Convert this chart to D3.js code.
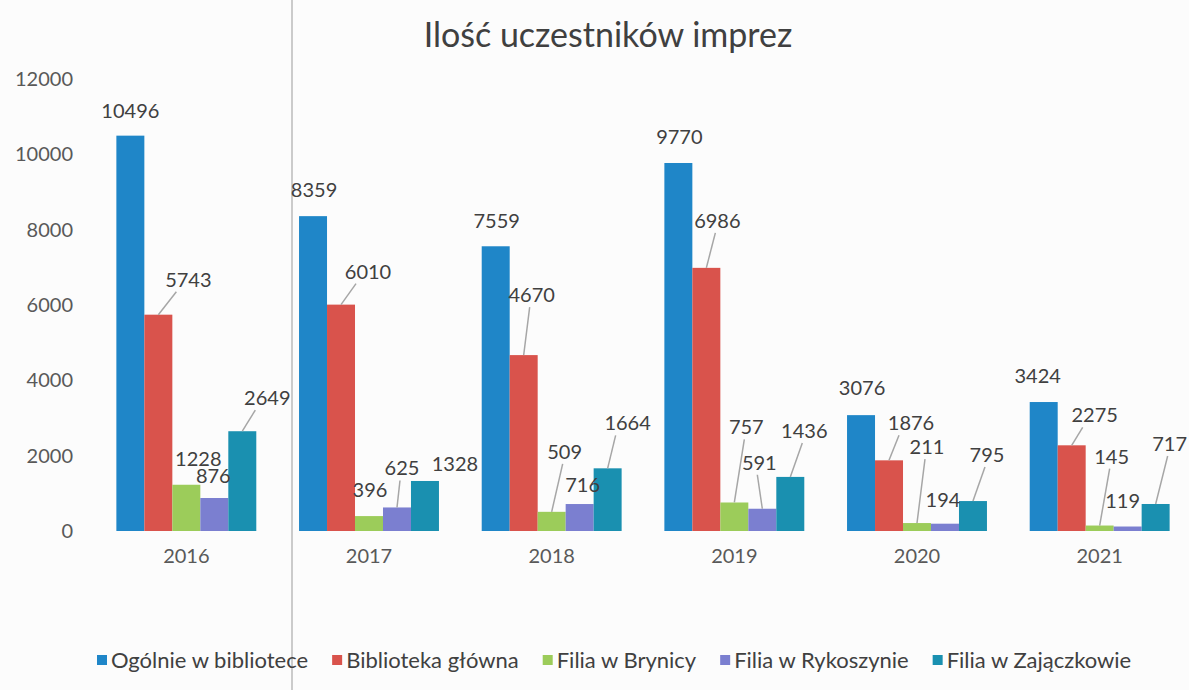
<!DOCTYPE html>
<html>
<head>
<meta charset="utf-8">
<script src="https://cdn.jsdelivr.net/npm/d3@7"></script>
<style>
  body { margin: 0; background: #fcfcfc; }
  svg { font-family: Lato, "Open Sans", sans-serif; }
</style>
</head>
<body>
<div class="wykres"></div>
<script>
// dane wykresu
var lata = ["2016", "2017", "2018", "2019", "2020", "2021"];
var serie = ["Ogólnie w bibliotece", "Biblioteka główna", "Filia w Brynicy", "Filia w Rykoszynie", "Filia w Zajączkowie"];
var ogolnie = [10496, 8359, 7559, 9770, 3076, 3424];
var glowna = [5743, 6010, 4670, 6986, 1876, 2275];
var brynica = [1228, 396, 509, 757, 211, 145];
var rykoszyn = [876, 625, 716, 591, 194, 119];
var zajaczkow = [2649, 1328, 1664, 1436, 795, 717];
var osY = [0, 2000, 4000, 6000, 8000, 10000, 12000];

// przesunięcia etykiet (dx, dy od szczytu słupka) i czy jest linia odniesienia
var etykiety = [
  [[0,-25,0],[30,-35,1],[12,-26,0],[-1,-22,0],[25,-33,1]],
  [[1,-26,0],[27,-33,1],[1,-26,0],[5,-39,1],[30,-17,0]],
  [[1,-25,0],[8,-60,1],[13,-60,1],[3,-19,0],[20,-45,1]],
  [[1,-26,0],[11,-47,1],[12,-75,1],[-3,-46,1],[14,-46,1]],
  [[1,-27,0],[22,-37,1],[10,-76,1],[-2,-24,0],[14,-46,1]],
  [[-6,-26,0],[23,-30,1],[12,-69,1],[-5,-26,0],[14,-60,1]]
];

var kolory = ["#1f86c8", "#d9534c", "#9ccc5a", "#7b7fd0", "#1a90b0"];

var wartosci = [ogolnie, glowna, brynica, rykoszyn, zajaczkow];
var dane = lata.map(function(rok, i){
  return { rok: rok, slupki: serie.map(function(s, j){
    return { seria: s, idx: j, wartosc: wartosci[j][i], et: etykiety[i][j] };
  })};
});

var width = 1189;
var height = 690;

var svg = d3.select(".wykres")
  .append("svg")
    .attr("width", width)
    .attr("height", height);

// linia zgięcia ze skanu
svg.append("line")
  .attr("x1", 292).attr("x2", 292)
  .attr("y1", 0).attr("y2", height)
  .attr("stroke", "#9a9a9a")
  .attr("stroke-width", 1);

// tytuł
svg.append("text")
  .attr("x", 608)
  .attr("y", 47)
  .attr("text-anchor", "middle")
  .attr("fill", "#404040")
  .style("font-size", "34px")
  .text("Ilość uczestników imprez");

var x0 = d3.scaleBand()
  .domain(lata)
  .range([95, 1191])
  .paddingInner(0.234)
  .paddingOuter(0.117);

var x1 = d3.scaleBand()
  .domain(serie)
  .range([0, x0.bandwidth()]);

var y = d3.scaleLinear()
  .domain([0, 12000])
  .range([531, 79]);

// oś Y
var yAxis = d3.axisLeft(y)
  .tickValues(osY)
  .tickSize(0)
  .tickPadding(0)
  .tickFormat(d3.format("d"));

var gy = svg.append("g")
  .attr("transform", "translate(73,0)")
  .call(yAxis);
gy.select(".domain").remove();
gy.selectAll("text")
  .attr("fill", "#595959")
  .style("font-size", "20px")
  .style("font-family", "Lato, sans-serif");

// oś X
var xAxis = d3.axisBottom(x0)
  .tickSize(0)
  .tickPadding(0);

var gx = svg.append("g")
  .attr("transform", "translate(0,549)")
  .call(xAxis);
gx.select(".domain").remove();
gx.selectAll("text")
  .attr("fill", "#595959")
  .style("font-size", "20px")
  .style("font-family", "Lato, sans-serif");

// słupki
var grupy = svg.selectAll(".grupa")
  .data(dane)
  .enter()
  .append("g")
    .attr("class", "grupa")
    .attr("transform", function(d){ return "translate(" + x0(d.rok) + ",0)"; });

grupy.selectAll("rect")
  .data(function(d){ return d.slupki; })
  .enter()
  .append("rect")
    .attr("x", function(d){ return x1(d.seria); })
    .attr("y", function(d){ return y(d.wartosc); })
    .attr("width", x1.bandwidth())
    .attr("height", function(d){ return y(0) - y(d.wartosc); })
    .attr("fill", function(d){ return kolory[d.idx]; });

// linie odniesienia
grupy.selectAll(".linia")
  .data(function(d){ return d.slupki.filter(function(s){ return s.et[2]; }); })
  .enter()
  .append("line")
    .attr("class", "linia")
    .attr("x1", function(d){ return x1(d.seria) + x1.bandwidth() / 2; })
    .attr("y1", function(d){ return y(d.wartosc); })
    .attr("x2", function(d){
      var cx = x1(d.seria) + x1.bandwidth() / 2 + d.et[0];
      return d.et[0] > 15 ? cx - 12 : cx - 2;
    })
    .attr("y2", function(d){ return y(d.wartosc) + d.et[1] + 12; })
    .attr("stroke", "#a6a6a6")
    .attr("stroke-width", 1.5);

// etykiety danych
grupy.selectAll(".etykieta")
  .data(function(d){ return d.slupki; })
  .enter()
  .append("text")
    .attr("class", "etykieta")
    .attr("x", function(d){ return x1(d.seria) + x1.bandwidth() / 2 + d.et[0]; })
    .attr("y", function(d){ return y(d.wartosc) + d.et[1]; })
    .attr("dy", "0.35em")
    .attr("text-anchor", "middle")
    .attr("fill", "#404040")
    .style("font-size", "20px")
    .text(function(d){ return d.wartosc; });

// legenda
var legenda = svg.append("g")
  .attr("transform", "translate(0,660)");

var pozX = 97;
serie.forEach(function(s, i){
  var el = legenda.append("g").attr("transform", "translate(" + pozX + ",0)");
  el.append("rect")
    .attr("x", 0).attr("y", -5)
    .attr("width", 10).attr("height", 10)
    .attr("fill", kolory[i]);
  var t = el.append("text")
    .attr("x", 14)
    .attr("dy", "0.35em")
    .attr("fill", "#404040")
    .style("font-size", "22px")
    .text(s);
  pozX += 14 + t.node().getComputedTextLength() + 24;
});
</script>
</body>
</html>
